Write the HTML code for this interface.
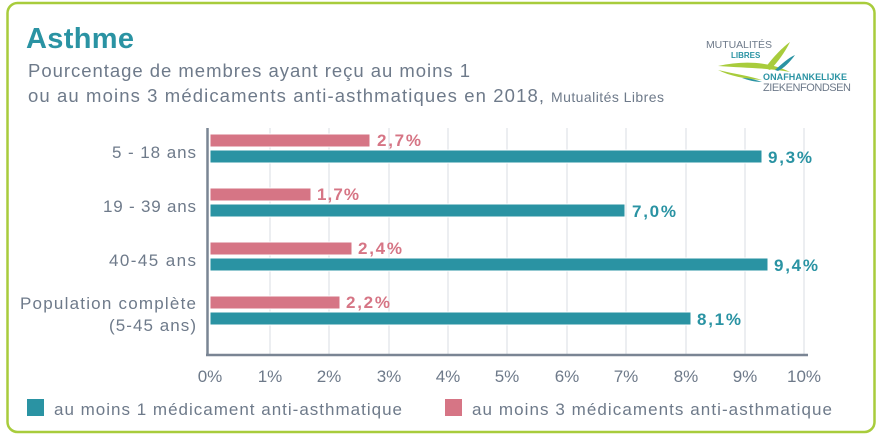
<!DOCTYPE html>
<html><head><meta charset="utf-8"><style>
body{margin:0;width:881px;height:441px;background:#fff;overflow:hidden;font-family:"Liberation Sans",sans-serif;}
</style></head><body>
<svg width="881" height="441" xmlns="http://www.w3.org/2000/svg" font-family="Liberation Sans, sans-serif">
<rect x="7.5" y="3" width="867" height="429" rx="10" fill="#fff" stroke="#a8cc3c" stroke-width="2.5"/>
<text x="26" y="48" font-size="29" font-weight="bold" fill="#2a93a3" textLength="108">Asthme</text>
<text x="28" y="77" font-size="18.5" fill="#6e7a8a" textLength="442">Pourcentage de membres ayant reçu au moins 1</text>
<text x="28" y="102" font-size="18.5" fill="#6e7a8a" textLength="516">ou au moins 3 médicaments anti-asthmatiques en 2018,</text>
<text x="551" y="102" font-size="14" fill="#6e7a8a" textLength="113">Mutualités Libres</text>
<!-- logo -->
<text x="706" y="48" font-size="10.5" fill="#6e7a8a" textLength="66">MUTUALITÉS</text>
<text x="731" y="58" font-size="8" font-weight="bold" fill="#2a93a3">LIBRES</text>
<path d="M718 66 C745 60 770 62 790 72 C770 68 745 68 718 66Z" fill="#a8cc3c"/>
<path d="M765 68 C775 55 782 48 790 42 C785 52 778 62 770 70Z" fill="#a8cc3c"/>
<path d="M775 70 C782 64 788 58 795 55 C790 62 784 68 778 71Z" fill="#2a93a3"/>
<path d="M718 70 C735 74 750 76 762 80 C745 79 730 76 718 70Z" fill="#a8cc3c"/>
<path d="M742 78 C750 78 756 80 762 82 C754 82 748 80 742 78Z" fill="#2a93a3"/>
<text x="763" y="80" font-size="9" font-weight="bold" fill="#2a93a3" textLength="84">ONAFHANKELIJKE</text>
<text x="763" y="91" font-size="11" fill="#6e7a8a" textLength="88">ZIEKENFONDSEN</text>
<!-- grid -->
<g stroke="#d8dde3" stroke-width="1">
<line x1="270" y1="128" x2="270" y2="355"/><line x1="329" y1="128" x2="329" y2="355"/><line x1="389" y1="128" x2="389" y2="355"/><line x1="448" y1="128" x2="448" y2="355"/><line x1="507" y1="128" x2="507" y2="355"/><line x1="567" y1="128" x2="567" y2="355"/><line x1="626" y1="128" x2="626" y2="355"/><line x1="686" y1="128" x2="686" y2="355"/><line x1="745" y1="128" x2="745" y2="355"/><line x1="804" y1="128" x2="804" y2="355"/>
</g>
<line x1="207.5" y1="128" x2="207.5" y2="355" stroke="#7a8594" stroke-width="2.5"/>
<line x1="206" y1="355" x2="808" y2="355" stroke="#7a8594" stroke-width="2.5"/>
<g stroke="#fff" stroke-width="1">
<rect x="210" y="134" width="160" height="13" fill="#d67585"/>
<rect x="210" y="150" width="552" height="13" fill="#2a93a3"/>
<rect x="210" y="188" width="101" height="13" fill="#d67585"/>
<rect x="210" y="204" width="415" height="13" fill="#2a93a3"/>
<rect x="210" y="242" width="142" height="13" fill="#d67585"/>
<rect x="210" y="258" width="558" height="13" fill="#2a93a3"/>
<rect x="210" y="296" width="130" height="13" fill="#d67585"/>
<rect x="210" y="312" width="481" height="13" fill="#2a93a3"/>
</g>
<g font-size="17" font-weight="bold">
<text x="377" y="146" fill="#d67585" textLength="44">2,7%</text>
<text x="768" y="163" fill="#2a93a3" textLength="44">9,3%</text>
<text x="317" y="200" fill="#d67585" textLength="42">1,7%</text>
<text x="632" y="217" fill="#2a93a3" textLength="44">7,0%</text>
<text x="358" y="254" fill="#d67585" textLength="44">2,4%</text>
<text x="774" y="271" fill="#2a93a3" textLength="44">9,4%</text>
<text x="346" y="308" fill="#d67585" textLength="44">2,2%</text>
<text x="697" y="325" fill="#2a93a3" textLength="44">8,1%</text>
</g>
<g font-size="17" fill="#6e7a8a" text-anchor="end">
<text x="196" y="158" textLength="84">5 - 18 ans</text>
<text x="196" y="212" textLength="93">19 - 39 ans</text>
<text x="196" y="266" textLength="87">40-45 ans</text>
<text x="196" y="309" textLength="176">Population complète</text>
<text x="196" y="331" textLength="87">(5-45 ans)</text>
</g>
<g font-size="17" fill="#6e7a8a" text-anchor="middle">
<text x="210" y="382">0%</text><text x="270" y="382">1%</text><text x="329" y="382">2%</text><text x="389" y="382">3%</text><text x="448" y="382">4%</text><text x="507" y="382">5%</text><text x="567" y="382">6%</text><text x="626" y="382">7%</text><text x="686" y="382">8%</text><text x="745" y="382">9%</text><text x="804" y="382">10%</text>
</g>
<rect x="27" y="399" width="17" height="17" fill="#2a93a3"/>
<text x="54" y="415" font-size="17" fill="#6e7a8a" textLength="348">au moins 1 médicament anti-asthmatique</text>
<rect x="445" y="399" width="17" height="17" fill="#d67585"/>
<text x="472" y="415" font-size="17" fill="#6e7a8a" textLength="360">au moins 3 médicaments anti-asthmatique</text>
</svg>
</body></html>
